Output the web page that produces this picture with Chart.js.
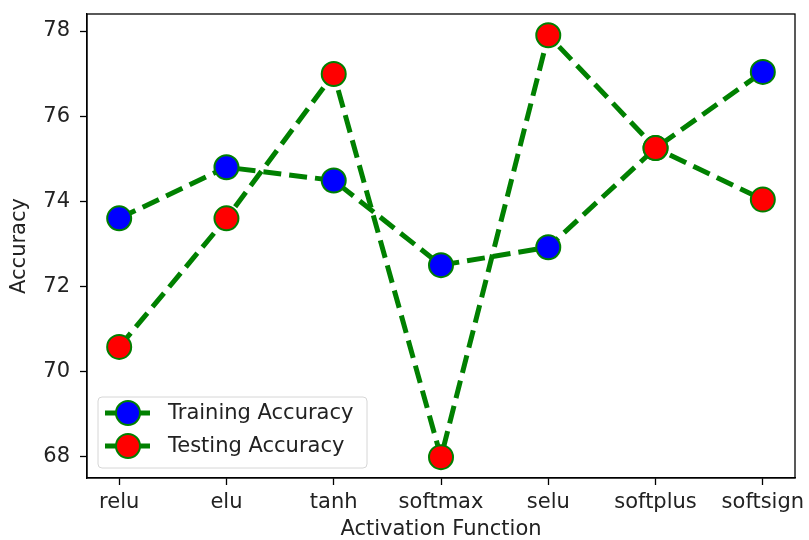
<!DOCTYPE html>
<html>
<head>
<meta charset="utf-8">
<script src="https://cdn.jsdelivr.net/npm/chart.js@4/dist/chart.umd.min.js"></script>
<style>
  html, body { margin: 0; padding: 0; background: #fff; }
  #wrap { width: 809px; height: 540px; }
</style>
</head>
<body>
<div id="wrap"><canvas id="grafico" width="809" height="540"></canvas></div>
<script>
const activaciones = ['relu', 'elu', 'tanh', 'softmax', 'selu', 'softplus', 'softsign'];
const trainAcc = [73.60, 74.80, 74.49, 72.50, 72.92, 75.25, 77.04];
const testAcc = [70.58, 73.60, 76.99, 67.99, 77.90, 75.25, 74.04];
const yTicks = [68, 70, 72, 74, 76, 78];

const FONT = 'DejaVu Sans';
const TAM = 21;
const verde = '#008000';

// puntos (x = indice de categoria)
const puntos = arr => arr.map((v, i) => ({ x: i, y: v }));

// marco completo + leyenda estilo matplotlib
const marcoYLeyenda = {
  id: 'marcoYLeyenda',
  afterDatasetsDraw(chart) {
    const { ctx, chartArea: a } = chart;
    ctx.save();
    ctx.strokeStyle = '#000';
    ctx.lineWidth = 1.3;
    ctx.strokeRect(a.left, a.top, a.right - a.left, a.bottom - a.top);

    // caja de leyenda
    const bx = 98, by = 397, bw = 269, bh = 71, r = 4;
    ctx.beginPath();
    ctx.moveTo(bx + r, by);
    ctx.arcTo(bx + bw, by, bx + bw, by + bh, r);
    ctx.arcTo(bx + bw, by + bh, bx, by + bh, r);
    ctx.arcTo(bx, by + bh, bx, by, r);
    ctx.arcTo(bx, by, bx + bw, by, r);
    ctx.closePath();
    ctx.fillStyle = 'rgba(255,255,255,0.8)';
    ctx.fill();
    ctx.strokeStyle = '#d6d6d6';
    ctx.lineWidth = 1;
    ctx.stroke();

    const filas = [413, 446];
    chart.data.datasets.forEach((ds, i) => {
      const y = filas[i];
      ctx.beginPath();
      ctx.moveTo(105, y);
      ctx.lineTo(150, y);
      ctx.strokeStyle = verde;
      ctx.lineWidth = 5;
      ctx.stroke();
      ctx.beginPath();
      ctx.arc(128, y, 12, 0, Math.PI * 2);
      ctx.fillStyle = ds.pointBackgroundColor;
      ctx.fill();
      ctx.lineWidth = 2;
      ctx.strokeStyle = verde;
      ctx.stroke();
      ctx.fillStyle = '#222';
      ctx.font = TAM + 'px "' + FONT + '"';
      ctx.textBaseline = 'middle';
      ctx.textAlign = 'left';
      ctx.fillText(ds.label, 168, y + 1);
    });
    ctx.restore();
  }
};

const serie = (label, datos, color, orden) => ({
  label,
  data: puntos(datos),
  borderColor: verde,
  borderWidth: 5,
  borderDash: [18, 8],
  pointRadius: 12,
  pointBackgroundColor: color,
  pointBorderColor: verde,
  pointBorderWidth: 2,
  fill: false,
  tension: 0,
  clip: false,
  order: orden
});

new Chart(document.getElementById('grafico'), {
  type: 'line',
  data: {
    datasets: [
      serie('Training Accuracy', trainAcc, '#0000ff', 1),
      serie('Testing Accuracy', testAcc, '#ff0000', 0)
    ]
  },
  options: {
    responsive: false,
    animation: false,
    layout: { padding: { top: 12, right: 7, left: 0, bottom: 0 } },
    plugins: {
      legend: { display: false },
      tooltip: { enabled: false }
    },
    scales: {
      x: {
        type: 'linear',
        min: -0.3,
        max: 6.3,
        afterBuildTicks: s => { s.ticks = activaciones.map((_, i) => ({ value: i })); },
        afterFit: s => { s.height = 62; s.paddingLeft = 0; s.paddingRight = 0; },
        ticks: {
          callback: v => activaciones[v],
          color: '#222',
          font: { family: FONT, size: TAM },
          padding: 5,
          maxRotation: 0,
          autoSkip: false
        },
        grid: { drawOnChartArea: false, tickLength: 7, color: '#000', tickWidth: 1.3 },
        border: { display: true, color: '#000', width: 1.3 },
        title: {
          display: true,
          text: 'Activation Function',
          color: '#222',
          font: { family: FONT, size: TAM, lineHeight: 1 },
          padding: { top: 0, bottom: 0 }
        }
      },
      y: {
        min: 67.5,
        max: 78.4,
        afterBuildTicks: s => { s.ticks = yTicks.map(v => ({ value: v })); },
        afterFit: s => { s.width = 87; s.paddingTop = 0; s.paddingBottom = 0; },
        ticks: {
          color: '#222',
          font: { family: FONT, size: TAM },
          padding: 10
        },
        grid: { drawOnChartArea: false, tickLength: 7, color: '#000', tickWidth: 1.3 },
        border: { display: true, color: '#000', width: 1.3 },
        title: {
          display: true,
          text: 'Accuracy',
          color: '#222',
          font: { family: FONT, size: TAM, lineHeight: 1 },
          padding: { top: 9.5, bottom: 0 }
        }
      }
    }
  },
  plugins: [marcoYLeyenda]
});
</script>
</body>
</html>
